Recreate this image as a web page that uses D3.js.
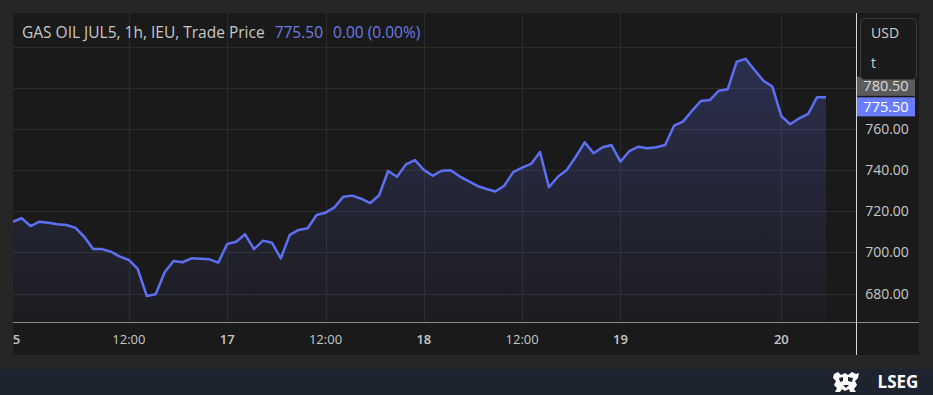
<!DOCTYPE html>
<html>
<head>
<meta charset="utf-8">
<script src="https://cdn.jsdelivr.net/npm/d3@7"></script>
<style>
  body { margin: 0; background: #262626; }
  svg { display: block; font-family: "Open Sans", sans-serif; }
</style>
</head>
<body>
<svg id="chart" width="933" height="395"></svg>
<script>
const width = 933, height = 395;
const svg = d3.select("#chart");

// hourly trade prices, GAS OIL JUL5
const prices = [
  714.9, 716.6, 712.8, 714.9, 714.4, 713.7, 713.3, 712.0, 707.6, 701.6,
  701.6, 700.3, 697.9, 696.3, 691.8, 678.8, 679.6, 690.3, 695.8, 695.2,
  697.1, 696.9, 696.6, 695.0, 704.1, 705.2, 708.8, 701.6, 705.7, 704.7,
  697.1, 708.5, 710.9, 711.7, 718.2, 719.3, 721.9, 727.1, 727.6, 726.1,
  724.0, 727.8, 739.6, 736.8, 742.8, 744.9, 740.1, 737.3, 739.7, 739.9,
  737.0, 734.7, 732.3, 730.8, 729.6, 732.4, 739.0, 741.2, 743.0, 748.8,
  731.7, 736.8, 740.1, 746.5, 753.5, 748.2, 751.1, 752.2, 744.1, 749.3,
  751.4, 750.6, 751.1, 752.2, 761.6, 763.6, 768.8, 773.6, 774.1, 778.6,
  779.3, 792.7, 794.1, 788.7, 783.5, 780.6, 766.3, 762.3, 765.2, 767.3,
  775.5, 775.5
];

// x axis: bar index of each label
const tickIdx    = [0, 13, 24, 35, 46, 57, 68, 86];
const tickLabels = ["15", "12:00", "17", "12:00", "18", "12:00", "19", "20"];
const yTicks     = [680, 700, 720, 740, 760, 780, 800];
const lastPrice  = 775.50;
const refPrice   = 780.50;

// layout
const plot = { left: 13, top: 13, right: 856, bottom: 322 };
const axisRight = 919, axisBottom = 355;

const x = d3.scaleLinear().domain([0, prices.length - 1]).range([12.7, 826]);
const y = d3.scaleLinear().domain([680, 760]).range([293.5, 129]);

// panels
svg.append("rect").attr("width", width).attr("height", height).attr("fill", "#262626");
svg.append("rect")
  .attr("x", plot.left).attr("y", plot.top)
  .attr("width", axisRight - plot.left).attr("height", axisBottom - plot.top)
  .attr("fill", "#1a1a1a");
svg.append("rect")
  .attr("x", 0).attr("y", 369).attr("width", width).attr("height", height - 369)
  .attr("fill", "#1e2330");

const defs = svg.append("defs");
defs.append("clipPath").attr("id", "plotClip")
  .append("rect")
  .attr("x", plot.left).attr("y", plot.top)
  .attr("width", plot.right - plot.left).attr("height", plot.bottom - plot.top);
defs.append("clipPath").attr("id", "xClip")
  .append("rect")
  .attr("x", plot.left).attr("y", plot.bottom)
  .attr("width", plot.right - plot.left).attr("height", axisBottom - plot.bottom);

const grad = defs.append("linearGradient").attr("id", "areaGrad")
  .attr("gradientUnits", "userSpaceOnUse")
  .attr("x1", 0).attr("x2", 0)
  .attr("y1", y(d3.max(prices))).attr("y2", plot.bottom);
grad.append("stop").attr("offset", "0%").attr("stop-color", "#6272f0").attr("stop-opacity", 0.24);
grad.append("stop").attr("offset", "100%").attr("stop-color", "#6272f0").attr("stop-opacity", 0.03);

const g = svg.append("g").attr("clip-path", "url(#plotClip)");

// grid
g.selectAll("line.hgrid")
  .data(yTicks)
  .join("line")
    .attr("class", "hgrid")
    .attr("x1", plot.left).attr("x2", plot.right)
    .attr("y1", d => Math.round(y(d)) + 0.5).attr("y2", d => Math.round(y(d)) + 0.5)
    .attr("stroke", "#2c2c2c");

g.selectAll("line.vgrid")
  .data(tickIdx.slice(1))
  .join("line")
    .attr("class", "vgrid")
    .attr("x1", d => Math.round(x(d)) + 0.5).attr("x2", d => Math.round(x(d)) + 0.5)
    .attr("y1", plot.top).attr("y2", plot.bottom)
    .attr("stroke", "#2c2c2c");

// area + line
const area = d3.area()
  .x((d, i) => x(i))
  .y0(plot.bottom)
  .y1(d => y(d));
const line = d3.line()
  .x((d, i) => x(i))
  .y(d => y(d));

g.append("path").datum(prices).attr("d", area).attr("fill", "url(#areaGrad)");
g.append("path").datum(prices).attr("d", line)
  .attr("fill", "none")
  .attr("stroke", "#5d6ff2")
  .attr("stroke-width", 2.5)
  .attr("stroke-linejoin", "round");

// axes borders
svg.append("line")
  .attr("x1", plot.left).attr("x2", axisRight)
  .attr("y1", plot.bottom + 0.5).attr("y2", plot.bottom + 0.5)
  .attr("stroke", "#8a8a8a");
svg.append("line")
  .attr("x1", plot.right + 0.5).attr("x2", plot.right + 0.5)
  .attr("y1", plot.top).attr("y2", axisBottom)
  .attr("stroke", "#d8d8d8");

// x axis labels
svg.append("g").attr("clip-path", "url(#xClip)")
  .selectAll("text")
  .data(tickIdx)
  .join("text")
    .attr("x", d => x(d))
    .attr("y", 344)
    .attr("text-anchor", "middle")
    .attr("fill", "#c8c8c8")
    .attr("font-size", 13)
    .attr("font-weight", (d, i) => tickLabels[i].includes(":") ? 400 : 600)
    .text((d, i) => tickLabels[i]);

// y axis labels
svg.append("g")
  .selectAll("text")
  .data(yTicks.filter(v => v <= 760))
  .join("text")
    .attr("x", 887)
    .attr("y", d => y(d) + 5)
    .attr("text-anchor", "middle")
    .attr("fill", "#c8c8c8")
    .attr("font-size", 14)
    .text(d => d.toFixed(2));

// price tags
const ref = svg.append("g");
ref.append("rect")
  .attr("x", plot.right + 1).attr("y", y(refPrice) - 10)
  .attr("width", 58).attr("height", 19)
  .attr("fill", "#5b5b5b");
ref.append("text")
  .attr("x", 886).attr("y", y(refPrice) + 4)
  .attr("text-anchor", "middle")
  .attr("fill", "#dcdcdc").attr("font-size", 14.5)
  .text(refPrice.toFixed(2));

const last = svg.append("g");
const lastY = y(refPrice) + 20; // pushed below the reference tag
last.append("rect")
  .attr("x", plot.right + 1).attr("y", lastY - 9.5)
  .attr("width", 58).attr("height", 19)
  .attr("fill", "#6b7dff");
last.append("text")
  .attr("x", 886).attr("y", lastY + 5)
  .attr("text-anchor", "middle")
  .attr("fill", "#ffffff").attr("font-size", 14.5)
  .text(lastPrice.toFixed(2));

// currency box (drawn over the reference tag)
svg.append("rect")
  .attr("x", 860.5).attr("y", 18.5).attr("width", 56).attr("height", 61).attr("rx", 4)
  .attr("fill", "#1b1b1b").attr("stroke", "#3c3c3c");
svg.append("text").attr("x", 871).attr("y", 38)
  .attr("fill", "#d0d0d0").attr("font-size", 14).text("USD");
svg.append("text").attr("x", 871).attr("y", 68)
  .attr("fill", "#d0d0d0").attr("font-size", 14).text("t");

// legend
const legend = svg.append("text").attr("x", 22).attr("y", 38).attr("font-size", 15.5);
legend.append("tspan").attr("fill", "#c8c8c8").text("GAS OIL JUL5, 1h, IEU, Trade Price");
legend.append("tspan").attr("dx", 10).attr("fill", "#6b7be6").text(lastPrice.toFixed(2));
legend.append("tspan").attr("dx", 10).attr("fill", "#6b7be6").text("0.00 (0.00%)");

// LSEG mark
const logo = svg.append("g").attr("transform", "translate(833,372)").attr("fill", "#ffffff");
logo.append("path")
  .attr("d", "M1,2 L5,0 L8,3 L12,1 L15,3 L19,0 L23,2 L26,1 L25,6 L22,9 L24,13 L21,17 L23,20 L17,20 L16,17 L12,19 L9,17 L7,20 L2,20 L4,16 L1,13 L3,9 L0,6 Z");
logo.append("path").attr("fill", "#1e2330")
  .attr("d", "M6,6 L10,5 L10,9 L7,10 Z M15,5 L20,6 L19,10 L15,9 Z M10,13 L16,13 L13,16 Z");
svg.append("text").attr("x", 898).attr("y", 388)
  .attr("text-anchor", "middle")
  .attr("fill", "#ffffff").attr("font-size", 17).attr("font-weight", 700)
  .text("LSEG");
</script>
</body>
</html>
